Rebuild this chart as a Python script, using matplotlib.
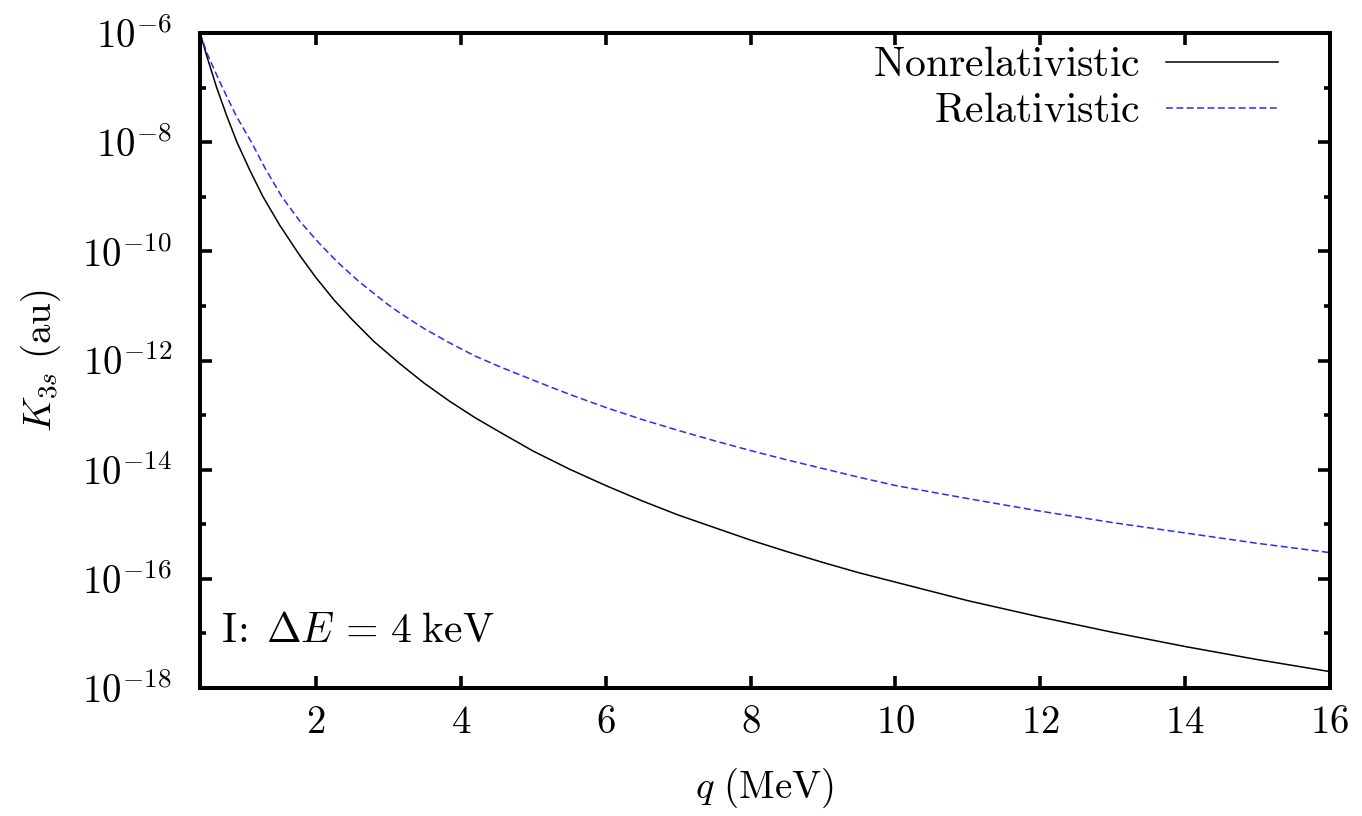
import numpy as np
import matplotlib
matplotlib.use('Agg')
import matplotlib.pyplot as plt
from matplotlib.ticker import FixedLocator, FixedFormatter, NullFormatter

plt.rcParams['mathtext.fontset'] = 'cm'
plt.rcParams['font.family'] = 'serif'
plt.rcParams['font.serif'] = ['cmr10', 'DejaVu Serif']
plt.rcParams['axes.unicode_minus'] = False

# values (q in MeV, log10 K in au)
q_nonrel = [0.40, 0.50, 0.63, 0.77, 0.91, 1.09, 1.27, 1.50, 1.78, 2.00, 2.25,
            2.50, 2.80, 3.16, 3.50, 3.85, 4.20, 4.55, 5.00, 5.50, 6.00, 6.50,
            7.00, 7.50, 8.00, 8.50, 9.00, 9.50, 10.00, 11.00, 12.00, 13.00,
            14.00, 15.00, 16.00]
logk_nonrel = [-6.00, -6.45, -7.00, -7.52, -8.00, -8.52, -9.00, -9.52, -10.08,
               -10.48, -10.89, -11.25, -11.65, -12.06, -12.42, -12.75, -13.05,
               -13.32, -13.66, -13.99, -14.29, -14.57, -14.83, -15.06, -15.29,
               -15.50, -15.70, -15.89, -16.06, -16.40, -16.70, -16.98, -17.24,
               -17.48, -17.70]

q_rel = [0.40, 0.50, 0.60, 0.71, 0.90, 1.11, 1.30, 1.53, 1.78, 2.03, 2.30,
         2.60, 3.00, 3.16, 3.50, 3.85, 4.20, 4.55, 5.00, 5.50, 6.00, 6.50,
         7.00, 7.50, 8.00, 8.50, 9.00, 9.50, 10.00, 11.00, 12.00, 13.00,
         14.00, 15.00, 16.00]
logk_rel = [-6.00, -6.38, -6.68, -7.00, -7.52, -8.00, -8.48, -9.00, -9.45,
            -9.83, -10.20, -10.56, -10.98, -11.13, -11.42, -11.68, -11.92,
            -12.12, -12.36, -12.62, -12.86, -13.08, -13.28, -13.47, -13.65,
            -13.82, -13.98, -14.14, -14.29, -14.53, -14.76, -14.97, -15.16,
            -15.35, -15.52]

x_ticks = [2, 4, 6, 8, 10, 12, 14, 16]
y_major = [1e-18, 1e-16, 1e-14, 1e-12, 1e-10, 1e-8, 1e-6]
y_major_labels = [r'$10^{-18}$', r'$10^{-16}$', r'$10^{-14}$', r'$10^{-12}$',
                  r'$10^{-10}$', r'$10^{-8}$', r'$10^{-6}$']
y_minor = [1e-17, 1e-15, 1e-13, 1e-11, 1e-9, 1e-7]

fs = 28

fig = plt.figure(figsize=(13.62, 8.16), dpi=100)
ax = fig.add_axes([200/1362, 1 - 688/816, 1130/1362, 655/816])

ax.plot(q_nonrel, 10**np.array(logk_nonrel), color='black', lw=1.1,
        label=r'$\mathrm{Nonrelativistic}$')
ax.plot(q_rel, 10**np.array(logk_rel), color='#2a2aff', lw=1.1,
        dashes=(4.5, 2.3), label=r'$\mathrm{Relativistic}$')

ax.set_yscale('log')
ax.set_xlim(0.4, 16)
ax.set_ylim(1e-18, 1e-6)

ax.xaxis.set_major_locator(FixedLocator(x_ticks))
ax.xaxis.set_major_formatter(FixedFormatter([r'$%d$' % t for t in x_ticks]))
ax.xaxis.set_minor_locator(FixedLocator([]))
ax.yaxis.set_major_locator(FixedLocator(y_major))
ax.yaxis.set_major_formatter(FixedFormatter(y_major_labels))
ax.yaxis.set_minor_locator(FixedLocator(y_minor))
ax.yaxis.set_minor_formatter(NullFormatter())

ax.tick_params(which='both', direction='in', top=True, right=True,
               labelsize=fs, width=2.6, color='black')
ax.tick_params(which='major', length=8.5)
ax.tick_params(which='minor', length=4.3)
ax.tick_params(axis='x', pad=12)
ax.tick_params(axis='y', pad=20)

for s in ax.spines.values():
    s.set_linewidth(2.9)

ax.set_xlabel(r'$q\ (\mathrm{MeV})$', fontsize=fs, labelpad=18)
ax.set_ylabel(r'$K_{3s}\ (\mathrm{au})$', fontsize=fs, labelpad=14)

ax.legend(loc='upper right', frameon=False, fontsize=30, markerfirst=False,
          handlelength=2.7, handletextpad=0.6, labelspacing=0.2,
          borderpad=0.0, borderaxespad=0.0,
          bbox_to_anchor=(1 - 52/1130, 1 - 14/655))

ax.text(0.019, 0.07, r'$\mathrm{I\!:}\;\Delta E\,=\,4\;\mathrm{keV}$',
        transform=ax.transAxes, fontsize=30, va='baseline', ha='left')

fig.savefig('out.png', dpi=100)
